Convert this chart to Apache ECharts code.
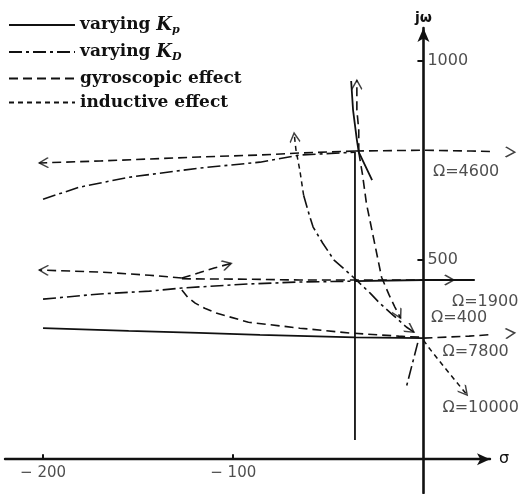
<!DOCTYPE html>
<html><head><meta charset="utf-8">
<script src="https://cdn.jsdelivr.net/npm/echarts@6/dist/echarts.min.js"></script>
<style>html,body{margin:0;padding:0;background:#fff}#c{width:521px;height:494px}</style>
</head><body><div id="c"></div>
<script>
// ---- data (sigma, j*omega) ----
const xTicks = [-200, -100];
const yTicks = [500, 1000];
const omegaLabels = ['Ω=4600', 'Ω=1900', 'Ω=400', 'Ω=7800', 'Ω=10000'];
const omegaAt = [[5, 721], [15, 394], [4, 354], [10, 269], [10, 128]];

// varying Kp
const kpVertical = [[-36, 772], [-36, 48]];
const kpTop = [[-38, 950], [-37, 877], [-35, 802], [-34, 771], [-30, 731], [-27, 701]];
const kp1900 = [[-36, 447], [0, 450], [27, 450]];
const kpLow = [[-200, 329], [-155, 322], [-118, 317], [-86, 312], [-36, 306], [0, 304]];
// varying KD
const kd4600 = [[-200, 653], [-181, 683], [-155, 708], [-118, 731], [-86, 746], [-65, 764], [-36, 771]];
const kd1900 = [[-200, 402], [-170, 415], [-144, 422], [-127, 430], [-92, 440], [-65, 445], [-36, 447]];
const kdCurve = [[-63, 663], [-60, 613], [-58, 583], [-53, 543], [-47, 500], [-38, 462], [-28, 417], [-23, 392], [-16, 362], [-9, 332], [-5, 319]];
const kdLow = [[-3, 292], [-9, 181]];
// gyroscopic effect
const gyro4600Left = [[-36, 774], [-65, 769], [-86, 764], [-118, 759], [-144, 754], [-170, 749], [-202, 744]];
const gyro4600Right = [[-36, 774], [0, 776], [25, 774], [48, 771]];
const gyroUp = [[-34, 771], [-34, 827], [-35, 877], [-35, 952]];
const gyroDown = [[-34, 771], [-32, 714], [-30, 643], [-26, 550], [-22, 457], [-18, 412], [-15, 382], [-12, 354]];
const gyro1900Left = [[-127, 455], [-144, 462], [-170, 470], [-202, 475]];
const gyro1900Up = [[-127, 455], [-118, 468], [-110, 480], [-101, 492]];
const gyro1900Right = [[-127, 453], [-92, 452], [-65, 450], [-36, 450], [0, 450], [16, 450]];
const gyroCusp = [[-127, 425], [-124, 407], [-120, 392], [-115, 379], [-109, 367], [-92, 344], [-65, 329], [-39, 317], [-13, 309], [0, 306]];
const gyro400Right = [[0, 304], [24, 309], [48, 317]];
// inductive effect
const indUpper = [[-63, 663], [-65, 726], [-67, 776], [-68, 819]];
const ind10000 = [[0, 299], [3, 279], [11, 231], [23, 161]];

// ---- chart ----
const INK = '#111';
const styles = {
  Kp: { color: INK, width: 1.8, type: 'solid' },
  KD: { color: INK, width: 1.6, type: [13, 4, 3, 4] },
  gyro: { color: INK, width: 1.6, type: [9, 5] },
  ind: { color: INK, width: 1.5, type: [5, 4] }
};
const curves = [
  ['Kp', kpVertical, false], ['Kp', kpTop, false], ['Kp', kp1900, false], ['Kp', kpLow, false],
  ['KD', kd4600, false], ['KD', kd1900, false], ['KD', kdCurve, true], ['KD', kdLow, false],
  ['gyro', gyro4600Left, true], ['gyro', gyro4600Right, true], ['gyro', gyroUp, true], ['gyro', gyroDown, true],
  ['gyro', gyro1900Left, true], ['gyro', gyro1900Up, true], ['gyro', gyro1900Right, true],
  ['gyro', gyroCusp, false], ['gyro', gyro400Right, true],
  ['ind', indUpper, true], ['ind', ind10000, true]
];
const legendText = {
  Kp: '{t|varying }{k|K}{s|p}',
  KD: '{t|varying }{k|K}{s|D}',
  gyro: '{t|gyroscopic effect}',
  ind: '{t|inductive effect}'
};
const lineSeries = curves.map(([g, pts]) => ({
  type: 'line', name: g, data: pts, symbol: 'none', showSymbol: false,
  clip: false, silent: true, lineStyle: styles[g], itemStyle: { color: INK }
}));

const chart = echarts.init(document.getElementById('c'), null, { renderer: 'canvas' });
const serif = 'DejaVu Serif';
const sans = 'DejaVu Sans';
const tickText = { fontFamily: sans, fontSize: 16, color: '#222' };
const option = {
  animation: false,
  backgroundColor: '#fff',
  grid: { left: 5, right: 31, top: 28, bottom: 1, containLabel: false, outerBoundsMode: 'none' },
  legend: {
    data: ['Kp', 'KD', 'gyro', 'ind'], orient: 'vertical', left: 8, top: 16, padding: 0,
    itemWidth: 66, itemHeight: 14, itemGap: 7, selectedMode: false,
    itemStyle: { color: 'rgba(0,0,0,0)', borderWidth: 0, opacity: 0 },
    formatter: n => legendText[n],
    textStyle: {
      color: INK, fontFamily: serif, fontWeight: 'bold', fontSize: 17,
      rich: {
        t: { fontFamily: serif, fontWeight: 'bold', fontSize: 17, color: INK, lineHeight: 22 },
        k: { fontFamily: serif, fontWeight: 'bold', fontStyle: 'italic', fontSize: 18, color: INK, lineHeight: 22 },
        s: { fontFamily: serif, fontWeight: 'bold', fontStyle: 'italic', fontSize: 11, color: INK, lineHeight: 12, verticalAlign: 'bottom' }
      }
    }
  },
  xAxis: {
    type: 'value', min: -220, max: 35,
    name: 'σ', nameLocation: 'end', nameGap: 9,
    nameTextStyle: { fontFamily: sans, fontSize: 16, color: INK },
    splitLine: { show: false },
    axisLine: { onZero: true, symbol: ['none', 'arrow'], symbolSize: [9, 13], lineStyle: { color: INK, width: 2.4 } },
    axisTick: { customValues: xTicks, inside: true, length: 5, lineStyle: { color: INK, width: 2 } },
    axisLabel: { show: false }
  },
  yAxis: {
    type: 'value', min: -85, max: 1083,
    name: 'jω', nameLocation: 'end', nameGap: 3,
    nameTextStyle: { fontFamily: sans, fontSize: 14, color: INK, fontWeight: 'bold' },
    splitLine: { show: false },
    axisLine: { onZero: true, symbol: ['none', 'arrow'], symbolSize: [9, 14], lineStyle: { color: INK, width: 2.6 } },
    axisTick: { customValues: yTicks, length: 6, lineStyle: { color: INK, width: 2 } },
    axisLabel: { show: false }
  },
  series: lineSeries
};
chart.setOption(option);

// arrowheads at the ends of curves, oriented along the last segment
const arrowData = curves.filter(c => c[2]).map(([g, pts]) => {
  const n = pts.length;
  const a = chart.convertToPixel({ gridIndex: 0 }, pts[n - 2]);
  const b = chart.convertToPixel({ gridIndex: 0 }, pts[n - 1]);
  const ang = Math.atan2(a[1] - b[1], b[0] - a[0]) * 180 / Math.PI;
  return { value: pts[n - 1], symbolRotate: ang - 90 };
});
chart.setOption({
  series: lineSeries.concat([
    {
      type: 'scatter', name: 'arrows', data: arrowData, clip: false, silent: true,
      symbol: 'path://M0,20 L5,10 L10,20 M5,0 L5,0', symbolSize: [10, 18],
      itemStyle: { color: 'rgba(0,0,0,0)', borderColor: INK, borderWidth: 1.6 }
    },
    {
      type: 'scatter', name: 'omega', clip: false, silent: true, symbolSize: 0,
      data: omegaAt.map((p, i) => ({ value: p, name: omegaLabels[i] })),
      label: { show: true, position: 'right', distance: 0, formatter: '{b}', ...tickText }
    },
    {
      type: 'scatter', name: 'xTickLabels', clip: false, silent: true, symbolSize: 0,
      data: xTicks.map(v => ({ value: [v, 0], name: String(v).replace('-', '− ') })),
      label: { show: true, position: 'bottom', distance: 6, formatter: '{b}', ...tickText, fontSize: 15 }
    },
    {
      type: 'scatter', name: 'yTickLabels', clip: false, silent: true, symbolSize: 0,
      data: yTicks.map(v => ({ value: [0, v], name: String(v) })),
      label: { show: true, position: 'right', distance: 4, formatter: '{b}', ...tickText }
    }
  ])
});
</script>
</body></html>
